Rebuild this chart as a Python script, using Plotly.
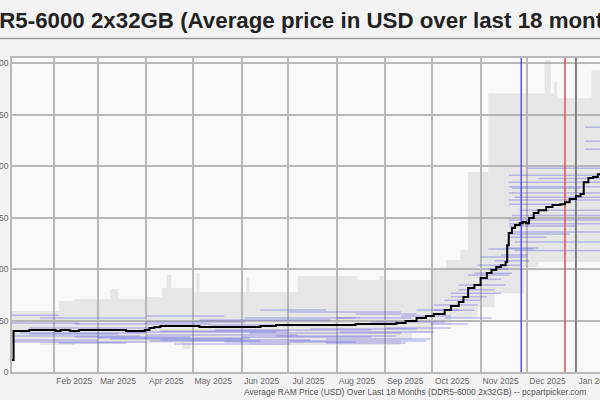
import plotly.graph_objects as go

# ---------------- data ----------------
avg_dates = ["2025-01-05","2025-01-06","2025-01-10","2025-01-16","2025-01-25","2025-02-02","2025-02-05",
             "2025-02-11","2025-02-17","2025-02-27","2025-03-09","2025-03-19","2025-03-28","2025-03-31",
             "2025-04-03","2025-04-06","2025-04-10","2025-04-19","2025-04-29","2025-05-05","2025-05-15",
             "2025-05-24","2025-06-03","2025-06-13","2025-06-23","2025-07-02","2025-07-15","2025-07-25",
             "2025-08-03","2025-08-13","2025-08-23","2025-09-01","2025-09-08","2025-09-14","2025-09-21",
             "2025-09-27","2025-10-02","2025-10-09","2025-10-13","2025-10-18","2025-10-21","2025-10-24",
             "2025-10-28","2025-11-01","2025-11-05","2025-11-08","2025-11-11","2025-11-14","2025-11-17",
             "2025-11-18","2025-11-19","2025-11-21","2025-11-23","2025-11-26","2025-11-28","2025-11-30",
             "2025-12-02","2025-12-05","2025-12-08","2025-12-13","2025-12-17","2025-12-22","2025-12-25",
             "2025-12-28","2026-01-01","2026-01-04","2026-01-06","2026-01-09","2026-01-12","2026-01-15",
             "2026-01-17"]
avg_price = [58,199,199,204,204,199,204,199,204,204,204,199,199,204,214,218,223,223,223,218,218,
             218,218,223,228,228,228,228,228,233,233,233,238,248,262,272,282,301,320,340,364,408,
             422,456,481,495,510,519,534,616,675,699,714,723,728,723,748,772,786,801,811,815,825,
             840,854,864,922,942,947,961,971]

band_dates = ["2025-01-05","2025-01-23","2025-02-04","2025-02-14","2025-03-09","2025-03-14","2025-03-31",
              "2025-04-11","2025-04-14","2025-04-17","2025-04-24","2025-04-29","2025-05-01","2025-05-03",
              "2025-05-05","2025-06-04","2025-06-06","2025-07-07","2025-08-14","2025-08-28","2025-08-31",
              "2025-09-11","2025-09-18","2025-09-30","2025-10-02","2025-10-10","2025-10-13","2025-10-19",
              "2025-10-24","2025-10-30","2025-11-06","2025-11-10","2025-11-29","2025-12-08","2025-12-12",
              "2025-12-16","2025-12-18","2025-12-20","2026-01-11","2026-01-17"]
band_high = [296,296,345,354,403,354,364,408,471,408,408,408,388,481,388,461,388,466,447,466,447,
             447,447,495,495,544,544,592,971,971,1354,1354,1354,1354,1514,1354,1408,1330,1466,1466]
band_low = [146,131,131,141,141,141,141,141,141,141,112,141,146,146,146,146,131,131,131,131,131,
            155,189,189,228,228,262,262,262,316,316,383,510,534,534,534,534,534,534,534]

# individual listing prices (start, end, price)
seg_start = ["2025-01-05","2025-01-05","2025-01-10","2025-01-05","2025-01-23","2025-02-04","2025-03-01",
             "2025-04-01","2025-04-03","2025-04-10","2025-04-01","2025-05-05","2025-06-01","2025-06-06",
             "2025-05-21","2025-07-01","2025-07-15","2025-07-25","2025-08-01","2025-06-13","2025-08-23",
             "2025-01-16","2025-02-14","2025-05-12","2025-03-09",
             "2025-01-05","2025-01-16","2025-02-14","2025-03-19","2025-04-10","2025-05-15","2025-06-23",
             "2025-07-02","2025-08-03","2025-09-01","2025-01-05","2025-03-31","2025-06-03","2025-08-13",
             "2025-04-19","2025-07-25",
             "2025-09-11","2025-09-21","2025-10-02","2025-10-09","2025-10-13","2025-10-18","2025-10-24",
             "2025-10-30","2025-11-01","2025-11-06","2025-10-09","2025-09-30",
             "2025-11-19","2025-11-19","2025-11-21","2025-11-19","2025-11-23","2025-11-19","2025-11-26",
             "2025-11-19","2025-11-19","2025-11-21","2025-11-19","2025-11-23","2025-11-17","2025-11-14",
             "2025-12-01","2026-01-07","2026-01-07","2026-01-07","2025-11-06","2025-11-01",
             "2025-11-19","2025-11-19","2025-11-21","2025-11-19","2025-11-19","2025-11-23","2025-12-08",
             "2025-11-10","2025-10-28","2025-10-18","2025-10-13","2025-10-02"]
seg_end = ["2025-03-28","2025-03-01","2025-03-31","2025-02-04","2025-03-31","2025-03-19","2025-06-06",
           "2025-07-07","2025-06-13","2025-07-01","2025-05-21","2025-07-28","2025-08-23","2025-09-11",
           "2025-08-13","2025-09-11","2025-09-21","2025-09-30","2025-09-18","2025-07-25","2025-10-09",
           "2025-04-10","2025-05-12","2025-08-01","2025-06-01",
           "2025-04-01","2025-03-14","2025-04-29","2025-06-23","2025-07-15","2025-08-23","2025-09-08",
           "2025-09-27","2025-10-02","2025-10-13","2025-02-17","2025-06-03","2025-08-13","2025-09-21",
           "2025-07-02","2025-09-14",
           "2025-10-13","2025-10-18","2025-10-30","2025-11-01","2025-11-14","2025-11-17","2025-11-19",
           "2025-11-27","2025-12-01","2025-12-05","2025-11-08","2025-10-24",
           "2026-01-17","2026-01-17","2026-01-04","2026-01-17","2026-01-17","2025-12-25","2026-01-17",
           "2026-01-17","2026-01-01","2026-01-17","2025-12-13","2026-01-17","2025-12-08","2025-12-01",
           "2026-01-17","2026-01-17","2026-01-17","2026-01-17","2025-11-19","2025-11-14",
           "2026-01-17","2026-01-17","2026-01-17","2026-01-17","2025-12-28","2026-01-17","2026-01-17",
           "2025-12-02","2025-11-21","2025-11-10","2025-11-05","2025-10-28"]
seg_price = [175,155,189,276,262,141,165,180,150,199,272,252,170,189,146,291,209,160,262,301,243,
             214,233,228,160,
             146,184,170,194,155,204,175,150,194,214,238,243,262,282,136,141,
             272,301,325,349,383,422,471,519,558,597,262,233,
             956,922,893,869,849,815,786,738,709,680,655,631,602,568,
             990,1189,1121,1082,500,450,
             900,835,760,720,670,590,940,
             540,480,400,365,300]

event_dates = ["2025-11-27", "2025-12-25"]
year_start = "2026-01-01"

y_ticks = [0, 250, 500, 750, 1000, 1250, 1500]

title_text = "DDR5-6000 2x32GB (Average price in USD over last 18 months)"
axis_text = "Average RAM Price (USD) Over Last 18 Months (DDR5-6000 2x32GB) -- pcpartpicker.com"

# ---------------- figure ----------------
FONT = "Liberation Sans, Arial, Helvetica, sans-serif"
GRID = "#b8b8b8"

fig = go.Figure()

# gray price range band
fig.add_trace(go.Scatter(x=band_dates, y=band_low, mode="lines", line=dict(width=0, shape="hv"),
                         showlegend=False, hoverinfo="skip"))
fig.add_trace(go.Scatter(x=band_dates, y=band_high, mode="lines", line=dict(width=0, shape="hv"),
                         fill="tonexty", fillcolor="rgba(175,175,175,0.25)",
                         showlegend=False, hoverinfo="skip"))

# blue listing segments (each its own path so overlaps deepen the tint)
for a, b, p in zip(seg_start, seg_end, seg_price):
    fig.add_trace(go.Scatter(x=[a, b], y=[p, p], mode="lines",
                             line=dict(color="rgba(70,70,225,0.32)", width=1.5),
                             showlegend=False, hoverinfo="skip"))

# event lines
for d, c in zip(event_dates, ["#5555dd", "#e05050"]):
    fig.add_trace(go.Scatter(x=[d, d], y=[0, 1525], mode="lines", line=dict(color=c, width=1.5),
                             showlegend=False, hoverinfo="skip"))
fig.add_trace(go.Scatter(x=[year_start, year_start], y=[0, 1525], mode="lines",
                         line=dict(color="#707070", width=1.5), showlegend=False, hoverinfo="skip"))

# average price line
fig.add_trace(go.Scatter(x=avg_dates, y=avg_price, mode="lines",
                         line=dict(color="black", width=2, shape="hv"),
                         showlegend=False, hoverinfo="skip"))

fig.update_layout(
    width=600, height=400,
    margin=dict(l=12, r=0, t=58, b=28, pad=0, autoexpand=False),
    paper_bgcolor="#f3f3f3", plot_bgcolor="#f9f9f9",
    font=dict(family=FONT),
    xaxis=dict(type="date", range=["2025-01-05", "2026-01-16 10:00"], automargin=False,
               tick0="2025-01-01", dtick="M1", tickformat="%b %Y",
               showgrid=True, gridcolor=GRID, gridwidth=1.5,
               showline=True, mirror=True, linecolor=GRID, linewidth=1.5,
               ticks="", ticklabelshift=20, ticklabeloverflow="allow",
               tickfont=dict(size=8.5, color="#666666"), zeroline=False),
    yaxis=dict(range=[0, 1525], tickvals=y_ticks, tickprefix="$", tickformat=",d", automargin=False,
               showgrid=True, gridcolor=GRID, gridwidth=1.5,
               showline=True, linecolor=GRID, linewidth=1.5,
               ticks="", ticklabeloverflow="allow",
               tickfont=dict(size=8.5, color="#666666"), zeroline=False),
    annotations=[
        dict(text=title_text, xref="paper", yref="paper", x=(-35 - 12) / 588, y=(372 - 21) / 314,
             xanchor="left", yanchor="middle", showarrow=False,
             font=dict(family=FONT, size=22.3, color="#222222", weight="bold")),
        dict(text=axis_text, xref="paper", yref="paper", x=(588 - 12) / 588, y=(372 - 392) / 314,
             xanchor="right", yanchor="middle", showarrow=False,
             font=dict(family=FONT, size=8.5, color="#555555")),
    ],
    shapes=[
        dict(type="line", xref="paper", yref="paper", x0=-0.1, x1=1.1,
             y0=(372 - 38.5) / 314, y1=(372 - 38.5) / 314, line=dict(color="#9a9a9a", width=1.5)),
    ],
)

fig.write_html("out.html")
